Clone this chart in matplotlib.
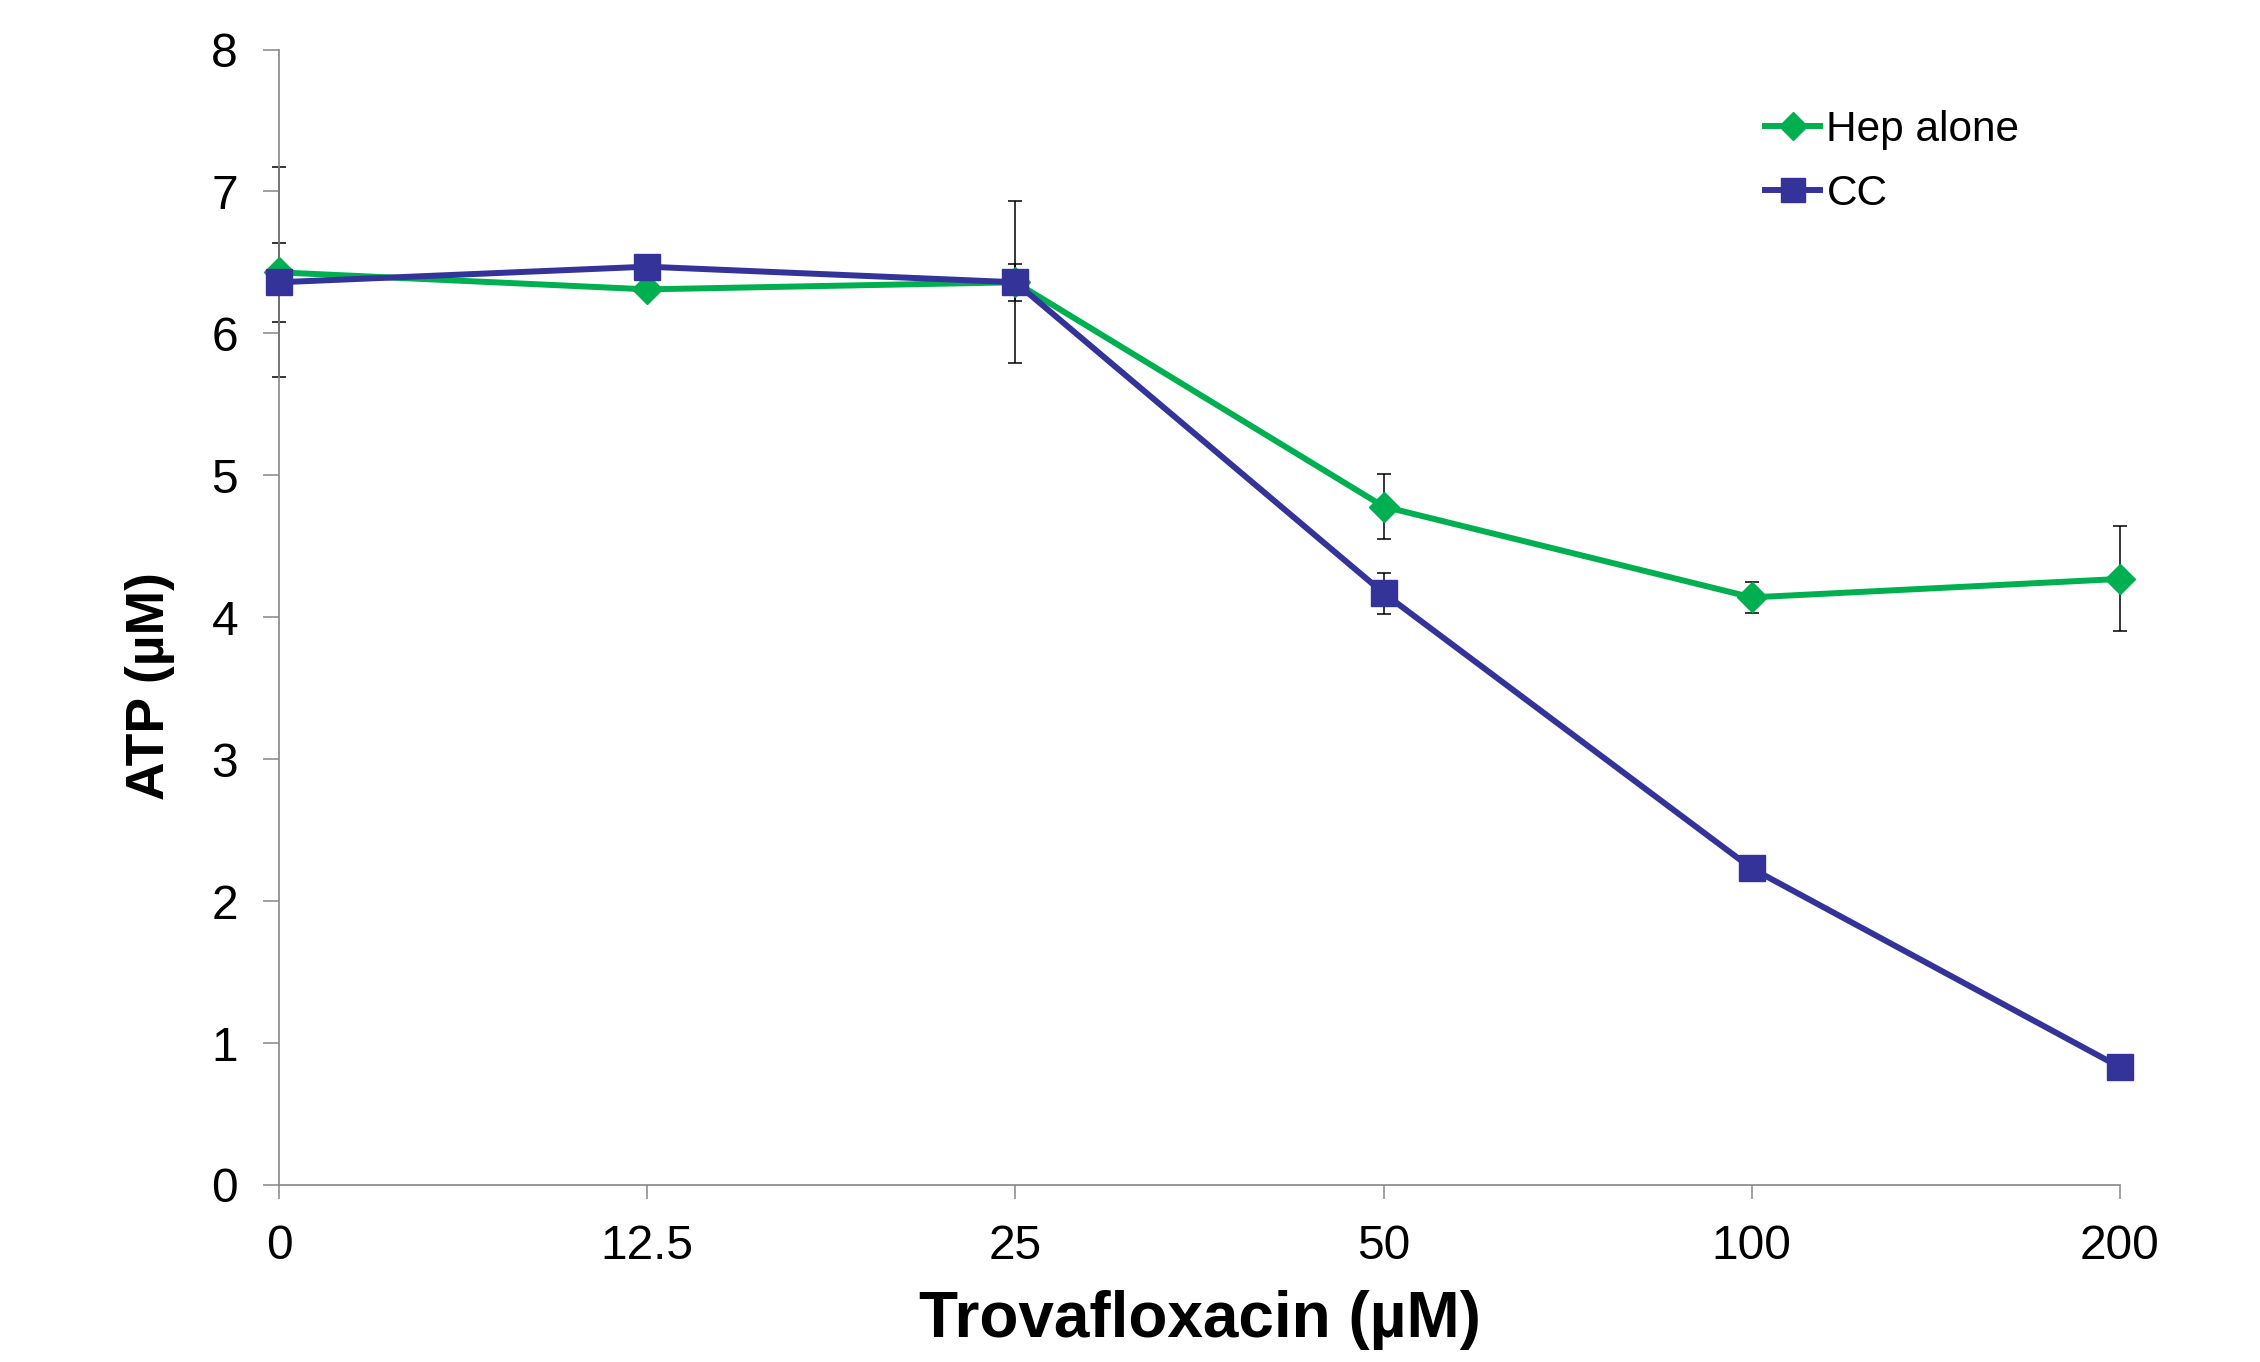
import matplotlib
matplotlib.use("Agg")
import matplotlib.pyplot as plt
import numpy as np

categories = ["0", "12.5", "25", "50", "100", "200"]
hep_alone = [6.43, 6.31, 6.36, 4.78, 4.14, 4.27]
hep_alone_err = [0.74, 0.0, 0.57, 0.23, 0.11, 0.37]
cc = [6.36, 6.47, 6.36, 4.17, 2.23, 0.83]
cc_err = [0.28, 0.0, 0.13, 0.145, 0.0, 0.0]
y_ticks = [0, 1, 2, 3, 4, 5, 6, 7, 8]

GREEN = "#00B050"
BLUE = "#333399"
GRAY = "#868686"

plt.rcParams["font.family"] = ["Liberation Sans", "DejaVu Sans"]

fig = plt.figure(figsize=(22.6, 13.62), dpi=100)
ax = fig.add_axes([279 / 2260, 1 - 1185 / 1362, (2120 - 279) / 2260, (1185 - 49.5) / 1362])

x = np.arange(len(categories))

# error bars (behind the lines/markers)
for vals, errs in [(hep_alone, hep_alone_err), (cc, cc_err)]:
    eb = ax.errorbar(x, vals, yerr=errs, fmt="none", ecolor="black",
                     elinewidth=1.1, capsize=5, capthick=1.1, zorder=2)
    for art in eb.lines[1] + eb.lines[2]:
        art.set_clip_on(False)

ax.plot(x, hep_alone, color=GREEN, lw=4.3, marker="D", markersize=15,
        markeredgewidth=1.0, markeredgecolor=GREEN, label="Hep alone", zorder=3,
        clip_on=False)
ax.plot(x, cc, color=BLUE, lw=4.3, marker="s", markersize=18.5,
        markeredgewidth=1.0, markeredgecolor=BLUE, label="CC", zorder=4,
        clip_on=False)

ax.set_xlim(0, len(categories) - 1)
ax.set_ylim(0, 8)
ax.set_xticks(x)
ax.set_xticklabels(categories)
ax.set_yticks(y_ticks)
ax.set_yticklabels([str(v) for v in y_ticks])

for s in ["top", "right"]:
    ax.spines[s].set_visible(False)
for s in ["left", "bottom"]:
    ax.spines[s].set_color(GRAY)
    ax.spines[s].set_linewidth(1.2)

ax.tick_params(axis="y", direction="out", length=11.5, width=1.1, color=GRAY,
               labelsize=34.5, pad=18)
ax.tick_params(axis="x", direction="out", length=10, width=1.1, color=GRAY,
               labelsize=34.5, pad=18)

xl = ax.set_xlabel("Trovafloxacin (µM)", fontsize=46, fontweight="bold")
xl.set_va("baseline")
ax.xaxis.set_label_coords(0.5, -(1337 - 1185) / (1185 - 49.5))

yl = ax.set_ylabel("ATP (µM)", fontsize=38.5, fontweight="bold")
yl.set_va("center")
ax.yaxis.set_label_coords(-(279 - 150) / (2120 - 279), (1185 - 686) / (1185 - 49.5))

leg = ax.legend(loc="upper left",
                bbox_to_anchor=((1765 - 279) / (2120 - 279), 1 - (110 - 49.5) / (1185 - 49.5)),
                frameon=False, fontsize=30.5, handlelength=1.3, handletextpad=0.15,
                labelspacing=0.56, borderaxespad=0, borderpad=0, markerscale=0.95)

fig.savefig("out.png", dpi=100)
